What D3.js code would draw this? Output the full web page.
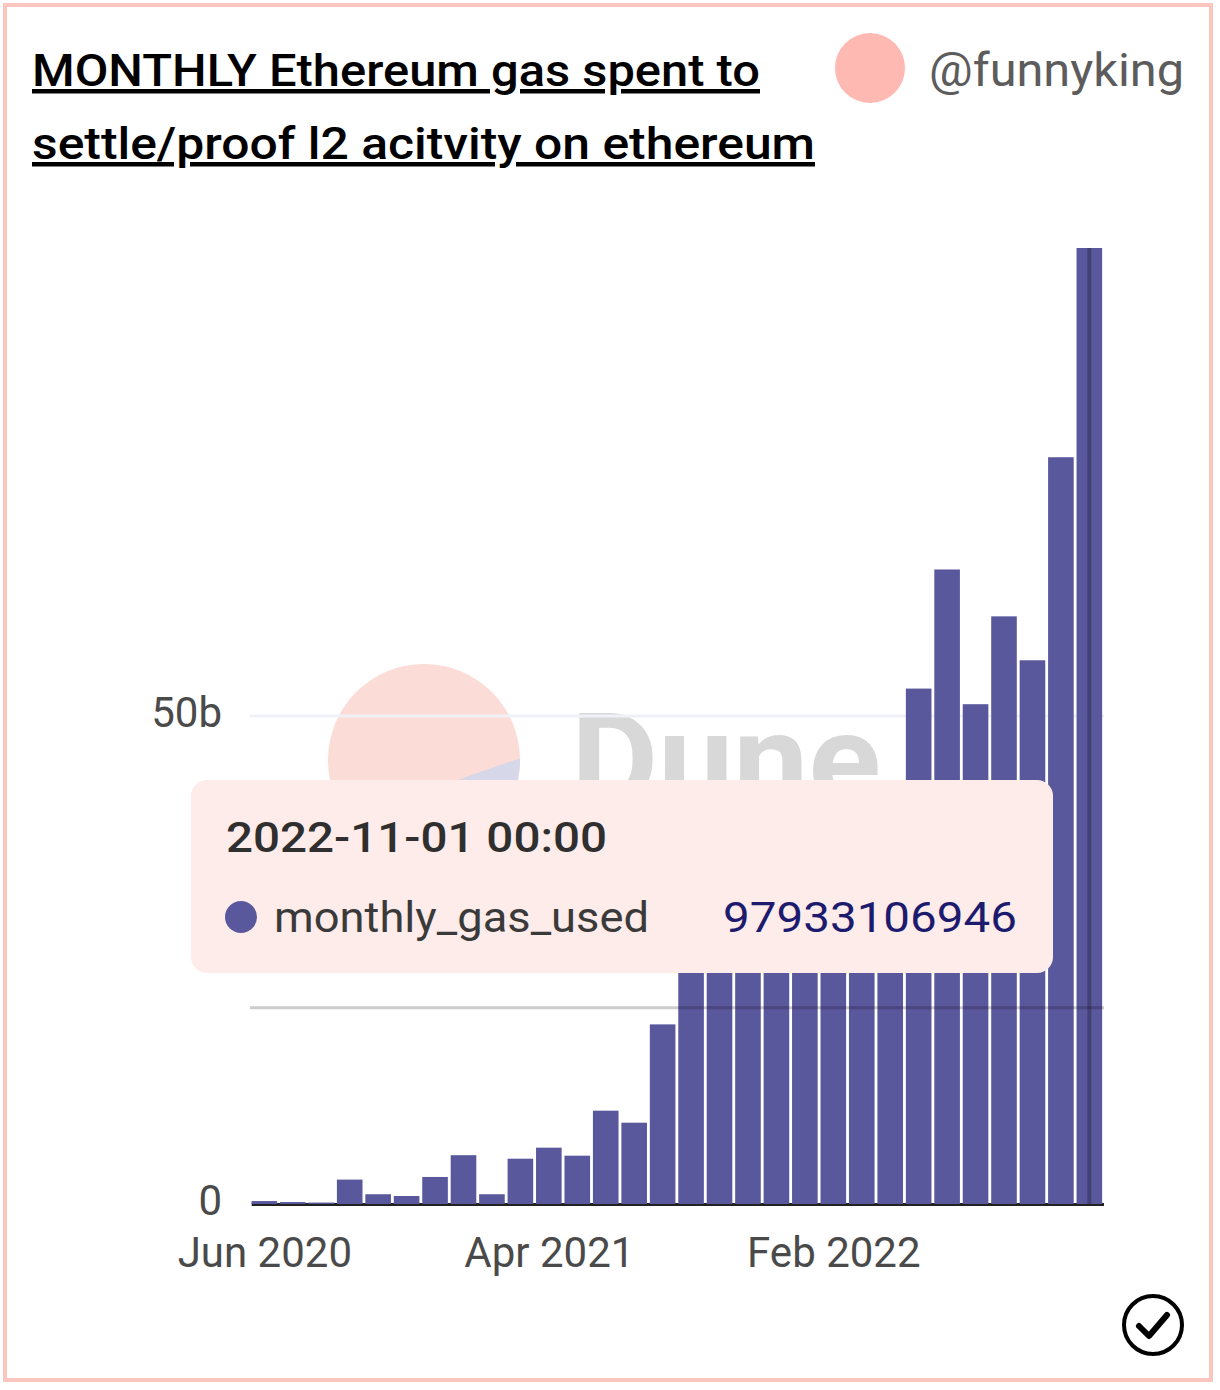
<!DOCTYPE html>
<meta charset='utf-8'>
<style>

body {
  margin: 0;
  background: #fff;
}

svg {
  display: block;
}

text {
  font-family: Roboto, sans-serif;
}

.tick text {
  font-size: 42px;
  fill: #4a4a4a;
}

</style>
<svg id='chart' width='1220' height='1390'></svg>
<script src="https://d3js.org/d3.v7.min.js"></script>
<script>
const titleLines = ['MONTHLY Ethereum gas spent to', 'settle/proof l2 acitvity on ethereum'];
const author = '@funnyking';
const seriesName = 'monthly_gas_used';

const months = [
  '2020-06', '2020-07', '2020-08', '2020-09', '2020-10', '2020-11', '2020-12',
  '2021-01', '2021-02', '2021-03', '2021-04', '2021-05', '2021-06', '2021-07',
  '2021-08', '2021-09', '2021-10', '2021-11', '2021-12', '2022-01', '2022-02',
  '2022-03', '2022-04', '2022-05', '2022-06', '2022-07', '2022-08', '2022-09',
  '2022-10', '2022-11'
];

// the bars behind the tooltip are guesses
const monthlyGasUsed = [
  0.3e9, 0.2e9, 0.15e9, 2.5e9, 1.0e9, 0.82e9, 2.77e9,
  5.0e9, 1.0e9, 4.64e9, 5.77e9, 4.95e9, 9.56e9, 8.33e9,
  18.4e9, 27e9, 30e9, 26e9, 33e9, 35e9, 30e9,
  38e9, 42e9, 52.8e9, 65e9, 51.2e9, 60.2e9, 55.7e9,
  76.5e9, 97933106946
];

const xTickMonths = ['2020-06', '2021-04', '2022-02'];
const xTickLabels = ['Jun 2020', 'Apr 2021', 'Feb 2022'];
const yTicks = [0, 50e9];
const yTickLabels = ['0', '50b'];

const hoverDate = '2022-11-01 00:00';
const hoverGas = 20e9;

const barColor = '#5a589d';
const pink = '#fcc6c0';

const svg = d3.select('#chart');

const x = d3.scaleBand()
  .domain(months)
  .range([250.7, 1103])
  .paddingInner(0.1)
  .paddingOuter(0.03);

const y = d3.scaleLinear()
  .domain([0, 97933106946])
  .range([1204, 248]);

// card and header
svg.append('rect')
  .attr('x', 5).attr('y', 5)
  .attr('width', 1206).attr('height', 1375)
  .attr('fill', '#fff')
  .attr('stroke', pink)
  .attr('stroke-width', 4);

svg.selectAll('text.title')
  .data(titleLines)
  .join('text')
  .attr('class', 'title')
  .attr('x', 32)
  .attr('y', (d, i) => 86 + i * 73)
  .attr('textLength', (d, i) => i == 0 ? 728 : 783)
  .attr('lengthAdjust', 'spacingAndGlyphs')
  .style('font-size', '45px')
  .style('font-weight', 500)
  .style('text-decoration', 'underline')
  .attr('fill', '#000')
  .text(d => d);

svg.append('circle')
  .attr('cx', 870).attr('cy', 68).attr('r', 35)
  .attr('fill', '#fdb9b2');

svg.append('text')
  .attr('x', 929).attr('y', 86)
  .attr('textLength', 255)
  .attr('lengthAdjust', 'spacingAndGlyphs')
  .style('font-size', '46px')
  .attr('fill', '#5c5c5c')
  .text(author);

// dune watermark
const mark = svg.append('g');

mark.append('clipPath')
  .attr('id', 'logo')
  .append('circle')
  .attr('cx', 424).attr('cy', 760).attr('r', 96);

mark.append('circle')
  .attr('cx', 424).attr('cy', 760).attr('r', 96)
  .attr('fill', '#fcdcd6');

mark.append('path')
  .attr('clip-path', 'url(#logo)')
  .attr('d', 'M525,757 C450,780 390,810 320,825 L320,870 L530,870 Z')
  .attr('fill', '#d6d7e8');

mark.append('text')
  .attr('x', 571).attr('y', 804)
  .attr('textLength', 310)
  .attr('lengthAdjust', 'spacingAndGlyphs')
  .style('font-size', '128px')
  .style('font-weight', 700)
  .attr('fill', '#d8d8d8')
  .text('Dune');

// gridline, behind the bars
svg.append('g')
  .selectAll('line')
  .data(yTicks.filter(d => d > 0))
  .join('line')
  .attr('x1', 250).attr('x2', 1104)
  .attr('y1', d => y(d)).attr('y2', d => y(d))
  .attr('stroke', '#f0f1f6')
  .attr('stroke-width', 3);

// axes
const xAxis = d3.axisBottom(x)
  .tickValues(xTickMonths)
  .tickSize(0)
  .tickPadding(33)
  .tickFormat(d => xTickLabels[xTickMonths.indexOf(d)]);

const gx = svg.append('g')
  .attr('transform', 'translate(0.5,' + y(0) + ')')
  .call(xAxis);

gx.select('.domain')
  .attr('stroke', '#222')
  .attr('stroke-width', 3);

const yAxis = d3.axisLeft(y)
  .tickValues(yTicks)
  .tickSize(0)
  .tickPadding(28)
  .tickFormat((d, i) => yTickLabels[i]);

const gy = svg.append('g')
  .attr('transform', 'translate(250,0)')
  .call(yAxis);

gy.select('.domain').remove();
gy.selectAll('.tick text').attr('dy', '0.24em');

// bars
svg.append('g')
  .selectAll('rect')
  .data(monthlyGasUsed)
  .join('rect')
  .attr('x', (d, i) => x(months[i]))
  .attr('y', d => y(d))
  .attr('width', x.bandwidth())
  .attr('height', d => y(0) - y(d))
  .attr('fill', barColor);

// axis pointer
const lastMonth = months[months.length - 1];

svg.append('line')
  .attr('x1', 250).attr('x2', 1104)
  .attr('y1', y(hoverGas) - 1).attr('y2', y(hoverGas) - 1)
  .attr('stroke', '#000')
  .attr('stroke-opacity', 0.2)
  .attr('stroke-width', 3);

svg.append('line')
  .attr('x1', x(lastMonth) + x.bandwidth() / 2)
  .attr('x2', x(lastMonth) + x.bandwidth() / 2)
  .attr('y1', y(97933106946)).attr('y2', y(0))
  .attr('stroke', '#000')
  .attr('stroke-opacity', 0.25)
  .attr('stroke-width', 4);

// tooltip
const tip = svg.append('g');

tip.append('rect')
  .attr('x', 191).attr('y', 780)
  .attr('width', 862).attr('height', 193)
  .attr('rx', 16)
  .attr('fill', '#feecea');

tip.append('text')
  .attr('x', 226).attr('y', 852)
  .attr('textLength', 381)
  .attr('lengthAdjust', 'spacingAndGlyphs')
  .style('font-size', '43px')
  .style('font-weight', 500)
  .attr('fill', '#2f2f2f')
  .text(hoverDate);

tip.append('circle')
  .attr('cx', 241).attr('cy', 917).attr('r', 16)
  .attr('fill', barColor);

tip.append('text')
  .attr('x', 274).attr('y', 932)
  .attr('textLength', 375)
  .attr('lengthAdjust', 'spacingAndGlyphs')
  .style('font-size', '42px')
  .attr('fill', '#3a3a3a')
  .text(seriesName);

tip.append('text')
  .attr('x', 723).attr('y', 932)
  .attr('textLength', 294)
  .attr('lengthAdjust', 'spacingAndGlyphs')
  .style('font-size', '42px')
  .attr('fill', '#1c1b6e')
  .text(monthlyGasUsed[monthlyGasUsed.length - 1]);

// check icon
const check = svg.append('g')
  .attr('transform', 'translate(1153,1325)');

check.append('circle')
  .attr('r', 29)
  .attr('fill', 'none')
  .attr('stroke', '#000')
  .attr('stroke-width', 4);

check.append('path')
  .attr('d', 'M-14,1 L-4,11 L14,-10')
  .attr('fill', 'none')
  .attr('stroke', '#000')
  .attr('stroke-width', 6)
  .attr('stroke-linecap', 'round')
  .attr('stroke-linejoin', 'round');
</script>
